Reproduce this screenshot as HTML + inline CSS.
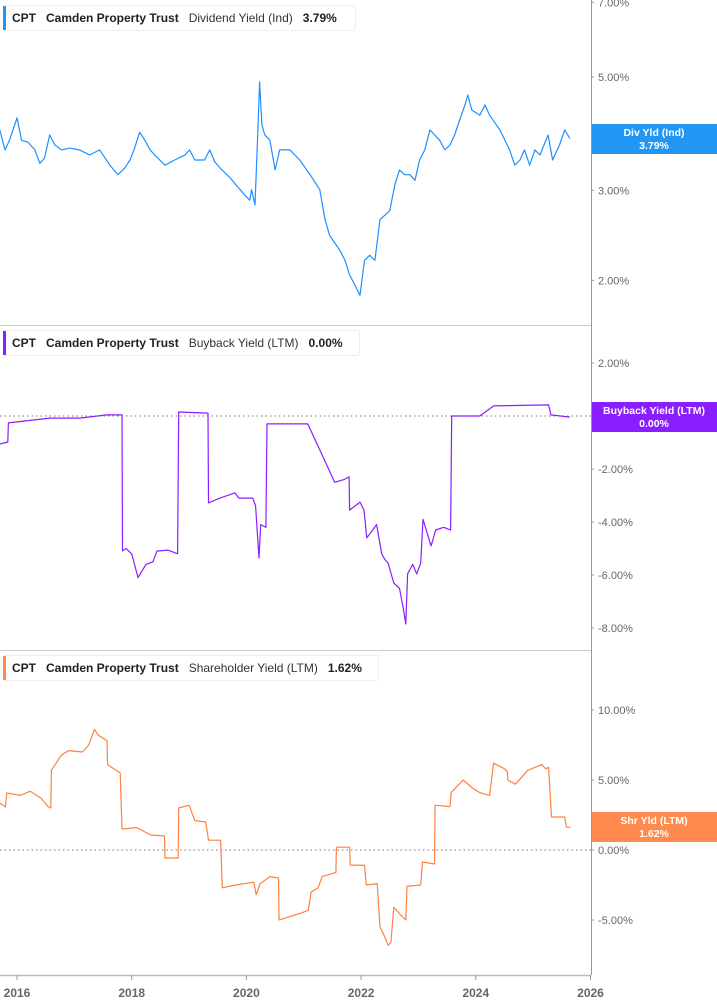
<!DOCTYPE html>
<html><head><meta charset="utf-8"><style>
body{margin:0;background:#fff;font-family:"Liberation Sans",sans-serif}
svg{display:block}
text{font-family:"Liberation Sans",sans-serif}
</style></head><body>
<svg id="chart" width="717" height="1005">
</svg>
<script>
const divDates=[2015.70,2015.79,2015.87,2016.00,2016.08,2016.19,2016.31,2016.40,2016.48,2016.57,2016.66,2016.78,2016.92,2017.09,2017.27,2017.44,2017.62,2017.76,2017.88,2017.97,2018.05,2018.14,2018.23,2018.32,2018.40,2018.58,2018.75,2018.93,2019.01,2019.10,2019.27,2019.36,2019.45,2019.54,2019.71,2019.89,2019.97,2020.06,2020.09,2020.15,2020.20,2020.23,2020.27,2020.32,2020.41,2020.50,2020.58,2020.76,2020.93,2021.11,2021.28,2021.37,2021.45,2021.63,2021.72,2021.80,2021.89,2021.98,2022.06,2022.15,2022.24,2022.33,2022.41,2022.50,2022.59,2022.67,2022.76,2022.85,2022.94,2023.02,2023.11,2023.20,2023.37,2023.46,2023.55,2023.63,2023.72,2023.81,2023.86,2023.93,2024.07,2024.16,2024.24,2024.42,2024.59,2024.68,2024.77,2024.85,2024.94,2025.03,2025.12,2025.26,2025.34,2025.46,2025.55,2025.64];
const divValues=[3.94,3.60,3.76,4.16,3.76,3.73,3.60,3.39,3.47,3.85,3.68,3.60,3.63,3.60,3.52,3.60,3.36,3.22,3.32,3.44,3.63,3.90,3.76,3.60,3.52,3.36,3.44,3.52,3.60,3.44,3.44,3.60,3.41,3.32,3.18,3.01,2.94,2.87,3.01,2.81,3.94,4.89,4.03,3.85,3.76,3.29,3.60,3.60,3.44,3.22,3.01,2.63,2.45,2.29,2.19,2.05,1.96,1.87,2.19,2.24,2.19,2.63,2.68,2.74,3.08,3.29,3.22,3.22,3.14,3.44,3.60,3.94,3.76,3.60,3.68,3.85,4.12,4.41,4.61,4.31,4.21,4.41,4.21,3.94,3.60,3.36,3.44,3.60,3.36,3.60,3.52,3.85,3.44,3.68,3.94,3.79];
const bbDates=[2015.70,2015.84,2015.85,2016.57,2017.09,2017.57,2017.83,2017.84,2017.90,2018.00,2018.11,2018.25,2018.37,2018.44,2018.63,2018.80,2018.82,2019.33,2019.34,2019.54,2019.80,2019.87,2020.11,2020.16,2020.22,2020.25,2020.34,2020.36,2021.07,2021.54,2021.70,2021.79,2021.80,2021.98,2022.05,2022.10,2022.27,2022.36,2022.41,2022.47,2022.57,2022.67,2022.74,2022.78,2022.81,2022.90,2022.97,2023.04,2023.08,2023.22,2023.30,2023.44,2023.56,2023.58,2024.07,2024.31,2025.27,2025.31,2025.64];
const bbValues=[-1.06,-0.98,-0.26,-0.08,-0.08,0.04,0.04,-5.09,-5.0,-5.2,-6.1,-5.6,-5.5,-5.1,-5.06,-5.2,0.15,0.11,-3.28,-3.1,-2.9,-3.1,-3.1,-3.4,-5.36,-4.1,-4.2,-0.3,-0.3,-2.5,-2.4,-2.3,-3.55,-3.25,-3.55,-4.6,-4.1,-5.2,-5.4,-5.55,-6.3,-6.5,-7.3,-7.85,-5.96,-5.6,-5.96,-5.55,-3.9,-4.9,-4.3,-4.2,-4.3,0,0,0.38,0.42,0.04,-0.04];
const shDates=[2015.70,2015.80,2015.82,2016.06,2016.23,2016.42,2016.54,2016.59,2016.60,2016.78,2016.90,2017.14,2017.25,2017.35,2017.42,2017.57,2017.58,2017.80,2017.83,2018.09,2018.33,2018.57,2018.58,2018.81,2018.82,2019.00,2019.10,2019.29,2019.34,2019.55,2019.58,2019.81,2020.13,2020.17,2020.24,2020.41,2020.56,2020.57,2020.72,2020.96,2021.08,2021.13,2021.25,2021.32,2021.56,2021.57,2021.80,2021.81,2022.06,2022.09,2022.28,2022.33,2022.40,2022.47,2022.52,2022.57,2022.68,2022.78,2022.80,2023.04,2023.07,2023.28,2023.29,2023.55,2023.57,2023.78,2023.95,2024.07,2024.24,2024.31,2024.50,2024.55,2024.56,2024.69,2024.91,2025.15,2025.22,2025.27,2025.32,2025.55,2025.58,2025.65];
const shValues=[3.36,3.07,4.07,3.9,4.2,3.7,3.1,3.0,5.7,6.8,7.1,7.0,7.5,8.6,8.2,7.8,6.1,5.5,1.5,1.6,1.07,1.0,-0.57,-0.57,3.0,3.2,2.1,2.0,0.7,0.7,-2.7,-2.5,-2.3,-3.2,-2.4,-1.9,-2.0,-5.0,-4.8,-4.5,-4.3,-3.0,-2.7,-1.9,-1.6,0.2,0.2,-1.07,-1.1,-2.5,-2.4,-5.5,-6.1,-6.8,-6.6,-4.1,-4.6,-5.0,-2.6,-2.5,-0.86,-1.0,3.2,3.1,4.1,5.0,4.4,4.1,3.9,6.2,5.8,5.6,5.0,4.7,5.7,6.1,5.8,5.9,2.36,2.36,1.64,1.62];
const yearTicks=[2016,2018,2020,2022,2024,2026];
const divTicks=[7,5,3,2];
const bbTicks=[2,0,-2,-4,-6,-8];
const shTicks=[10,5,0,-5];

const NS='http://www.w3.org/2000/svg';
const svg=document.getElementById('chart');
function el(tag,attrs,txt){const e=document.createElementNS(NS,tag);for(const k in attrs)e.setAttribute(k,attrs[k]);if(txt!==undefined)e.textContent=txt;svg.appendChild(e);return e;}
const xS=t=>17+(t-2016)*57.35;
const yDiv=v=>77+(Math.log(5)-Math.log(v))*222;
const yBB=v=>416-v*26.5;
const ySh=v=>850-v*14;
const AX=591;

// separators and axes
let e;
e=el('line',{x1:0,y1:325.5,x2:AX,y2:325.5,stroke:'#ccc'});


e=el('line',{x1:0,y1:650.5,x2:AX,y2:650.5,stroke:'#ccc'});


e=el('line',{x1:AX+0.5,y1:0,x2:AX+0.5,y2:975,stroke:'#999'});


e=el('line',{x1:0,y1:975.5,x2:AX,y2:975.5,stroke:'#bbb','stroke-width':1.5});



yearTicks.forEach(y=>{
  const x=xS(y);
  e=el('line',{x1:x,y1:975,x2:x,y2:980,stroke:'#999'});
  
  
  e=el('text',{x:x,y:997,'text-anchor':'middle','font-size':12,'font-weight':'bold',fill:'#666'},String(y));
  
  
});

function yTicks(ticks,fy,name){
  ticks.forEach(v=>{
    const y=fy(v);
    e=el('line',{x1:AX,y1:y,x2:AX+3,y2:y,stroke:'#999'});
    
    
    e=el('text',{x:598,y:y+4,'font-size':11,fill:'#666'},v.toFixed(2)+'%');
    
    
  });
}
yTicks(divTicks,yDiv,'div-y');
yTicks(bbTicks,yBB,'buyback-y');
yTicks(shTicks,ySh,'shr-y');

e=el('line',{x1:0,y1:416,x2:AX,y2:416,stroke:'#777','stroke-dasharray':'1.5,3'});


e=el('line',{x1:0,y1:850,x2:AX,y2:850,stroke:'#777','stroke-dasharray':'1.5,3'});



function series(dates,vals,fy,color,name){
  const d=dates.map((t,i)=>(i?'L':'M')+xS(t).toFixed(1)+','+fy(vals[i]).toFixed(1)).join('');
  e=el('path',{d:d,fill:'none',stroke:color,'stroke-width':1.2,'stroke-linejoin':'round'});
  
  
}
series(divDates,divValues,yDiv,'#1e8fff','dividend-yield-line');
series(bbDates,bbValues,yBB,'#8a1eff','buyback-yield-line');
series(shDates,shValues,ySh,'#ff8040','shareholder-yield-line');

function badge(y,h,color,l1,l2,name){
  e=el('rect',{x:AX+1,y:y,width:717-AX,height:h,fill:color});
  
  
  e=el('text',{x:654,y:y+12,'text-anchor':'middle','font-size':10.5,'font-weight':'bold',fill:'#fff'},l1);
  
  
  e=el('text',{x:654,y:y+25,'text-anchor':'middle','font-size':10.5,'font-weight':'bold',fill:'#fff'},l2);
  
  
}
badge(124,30,'#2196f3','Div Yld (Ind)','3.79%','div-badge');
badge(402,30,'#8b1eff','Buyback Yield (LTM)','0.00%','buyback-badge');
badge(812,30,'#ff8a4d','Shr Yld (LTM)','1.62%','shr-badge');

function legend(y,w,color,metric,val,name){
  e=el('rect',{x:3.5,y:y+0.5,width:w,height:25,fill:'#fff',stroke:'#eee',rx:2});
  
  
  e=el('rect',{x:3,y:y+1,width:3,height:24,fill:color});
  
  
  const t=el('text',{x:12,y:y+17,'font-size':12,'font-weight':'bold',fill:'#222'});
  
  
  t.innerHTML='CPT<tspan dx="10">Camden Property Trust</tspan><tspan dx="10" font-weight="normal" fill="#333">'+metric+'</tspan><tspan dx="10">'+val+'</tspan>';
}
legend(5,352,'#2196f3','Dividend Yield (Ind)','3.79%','div-legend');
legend(330,356,'#8b1eff','Buyback Yield (LTM)','0.00%','buyback-legend');
legend(655,375,'#ff8a4d','Shareholder Yield (LTM)','1.62%','shr-legend');
</script>
</body></html>
